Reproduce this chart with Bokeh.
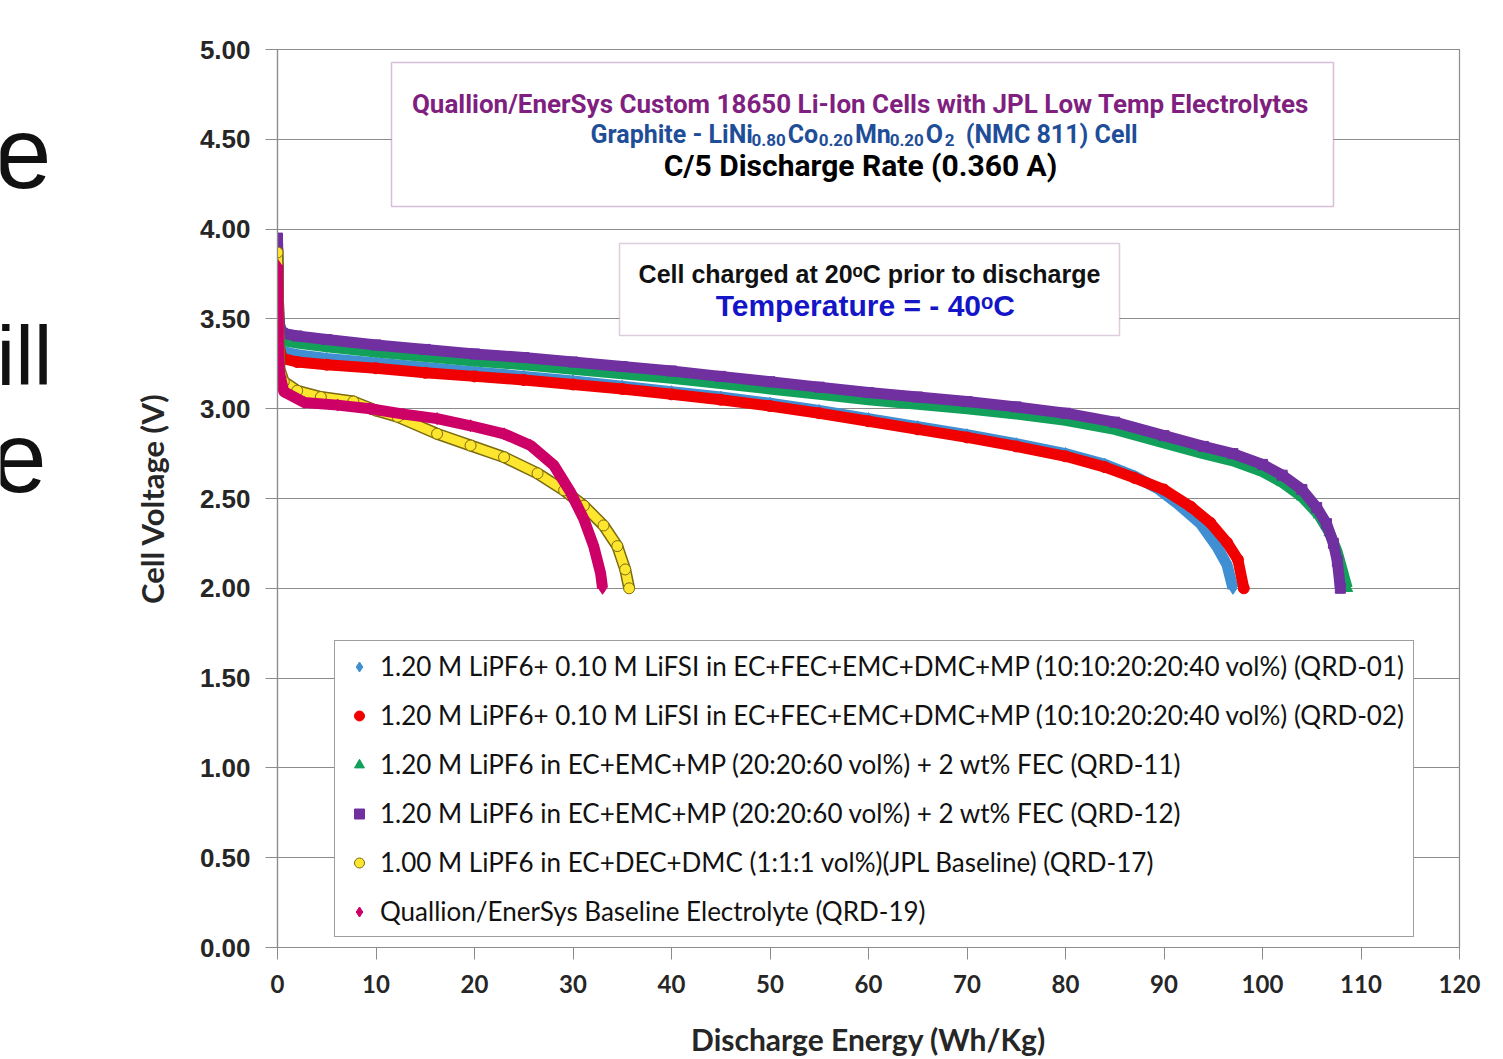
from bokeh.plotting import figure
from bokeh.layouts import row
from bokeh.models import (Label, BoxAnnotation, Legend, LegendItem, FixedTicker,
                          NumeralTickFormatter, Range1d)
from bokeh.core.properties import value
from bokeh.embed import file_html
from bokeh.resources import INLINE

# ---------------- data ----------------
energy_qrd01 = [0, 0.05, 0.1, 0.2, 0.5, 2, 5, 10, 15, 20, 25, 30, 35, 40, 45, 50, 55, 60, 65, 70,
                75, 80, 84, 87, 89.5, 91.4, 93.7, 95.4, 96.4, 97.0]
voltage_qrd01 = [3.92, 3.65, 3.50, 3.37, 3.32, 3.30, 3.28, 3.255, 3.23, 3.205, 3.18, 3.155, 3.125,
                 3.095, 3.065, 3.03, 2.99, 2.945, 2.90, 2.855, 2.805, 2.75, 2.69, 2.625, 2.55,
                 2.47, 2.36, 2.23, 2.13, 2.00]

energy_qrd02 = [0, 0.05, 0.1, 0.2, 0.5, 2, 5, 10, 15, 20, 25, 30, 35, 40, 45, 50, 55, 60, 65, 70,
                75, 80, 84, 87, 90, 92.7, 94.7, 96.4, 97.5, 98.1]
voltage_qrd02 = [3.88, 3.60, 3.45, 3.33, 3.28, 3.26, 3.245, 3.225, 3.20, 3.18, 3.16, 3.135, 3.11,
                 3.08, 3.05, 3.015, 2.975, 2.93, 2.885, 2.84, 2.79, 2.735, 2.675, 2.615, 2.55,
                 2.455, 2.365, 2.255, 2.16, 2.00]

energy_qrd11 = [0, 0.05, 0.1, 0.2, 0.5, 2, 5, 10, 15, 20, 25, 30, 35, 40, 45, 50, 55, 60, 65, 70,
                75, 80, 85, 90, 94, 97, 100, 102, 104, 105.7, 106.8, 107.6, 108.1, 108.6]
voltage_qrd11 = [3.93, 3.72, 3.55, 3.42, 3.38, 3.365, 3.345, 3.315, 3.29, 3.265, 3.245, 3.22, 3.195,
                 3.17, 3.14, 3.11, 3.08, 3.05, 3.025, 3.00, 2.97, 2.935, 2.885, 2.81, 2.75, 2.71,
                 2.65, 2.59, 2.51, 2.41, 2.31, 2.20, 2.10, 2.00]

energy_qrd12 = [0, 0.05, 0.1, 0.2, 0.5, 2, 5, 10, 15, 20, 25, 30, 35, 40, 45, 50, 55, 60, 65, 70,
                75, 80, 85, 90, 94, 97, 100, 102, 104, 105.5, 106.5, 107.2, 107.6, 107.9]
voltage_qrd12 = [3.95, 3.78, 3.60, 3.47, 3.42, 3.405, 3.385, 3.355, 3.33, 3.305, 3.285, 3.26, 3.235,
                 3.21, 3.18, 3.15, 3.12, 3.09, 3.065, 3.04, 3.01, 2.975, 2.925, 2.85, 2.79, 2.75,
                 2.69, 2.63, 2.55, 2.45, 2.36, 2.25, 2.15, 2.00]

energy_qrd17 = [0, 0.05, 0.1, 0.2, 0.64, 2.0, 4.4, 7.7, 10, 12.2, 16.2, 19.6, 23.0, 26.4, 29.1,
                31.1, 33.1, 34.5, 35.3, 35.7]
voltage_qrd17 = [3.87, 3.60, 3.40, 3.22, 3.15, 3.10, 3.065, 3.04, 2.99, 2.955, 2.86, 2.795, 2.73,
                 2.64, 2.545, 2.46, 2.35, 2.235, 2.105, 2.00]

energy_qrd19 = [0, 0.05, 0.1, 0.2, 0.64, 2.7, 6.1, 9.4, 12.8, 16.2, 19.6, 23.0, 25.7, 28.05, 29.75,
                31.1, 32.1, 32.8, 33.0]
voltage_qrd19 = [3.80, 3.55, 3.30, 3.20, 3.095, 3.035, 3.02, 3.00, 2.97, 2.945, 2.905, 2.86, 2.795,
                 2.685, 2.535, 2.385, 2.235, 2.085, 2.00]

series_labels = [
    "1.20 M LiPF6+ 0.10 M LiFSI in EC+FEC+EMC+DMC+MP (10:10:20:20:40 vol%) (QRD-01)",
    "1.20 M LiPF6+ 0.10 M LiFSI in EC+FEC+EMC+DMC+MP (10:10:20:20:40 vol%) (QRD-02)",
    "1.20 M LiPF6 in EC+EMC+MP (20:20:60 vol%) + 2 wt% FEC (QRD-11)",
    "1.20 M LiPF6 in EC+EMC+MP (20:20:60 vol%) + 2 wt% FEC (QRD-12)",
    "1.00 M LiPF6 in EC+DEC+DMC (1:1:1 vol%)(JPL Baseline) (QRD-17)",
    "Quallion/EnerSys Baseline Electrolyte (QRD-19)",
]

x_ticks = [0, 10, 20, 30, 40, 50, 60, 70, 80, 90, 100, 110, 120]
y_ticks = [0.0, 0.5, 1.0, 1.5, 2.0, 2.5, 3.0, 3.5, 4.0, 4.5, 5.0]

slide_words = ["ue", "ill", "e"]

LEFT, RIGHT, TOP, BOTTOM = 277, 1459, 49, 947
W, H = 1503, 1059

# ---------------- left strip with cropped slide text ----------------
STRIP = 60
side = figure(width=STRIP, height=H, x_range=Range1d(0, STRIP), y_range=Range1d(BOTTOM, TOP),
              output_backend="svg", toolbar_location=None,
              min_border_left=0, min_border_right=0,
              min_border_top=TOP, min_border_bottom=H - BOTTOM)
side.axis.visible = False
side.grid.visible = False
side.outline_line_color = None
side.background_fill_color = "white"
side.border_fill_color = "white"
side.text(x=[51], y=[152], text=[slide_words[0]], text_font=value("Liberation Sans"),
          text_font_size="102px", text_align="right", text_baseline="alphabetic", text_color="#111111")
side.text(x=[-4], y=[355], text=[slide_words[1]], text_font=value("Liberation Sans"),
          text_font_size="84px", text_align="left", text_baseline="alphabetic", text_color="#111111")
side.text(x=[46], y=[457], text=[slide_words[2]], text_font=value("Liberation Sans"),
          text_font_size="100px", text_align="right", text_baseline="alphabetic", text_color="#111111")

# ---------------- main figure ----------------
p = figure(width=W - STRIP, height=H, x_range=(0, 120), y_range=(0, 5),
           output_backend="svg", toolbar_location=None,
           min_border_left=LEFT - STRIP, min_border_right=W - RIGHT,
           min_border_top=TOP, min_border_bottom=H - BOTTOM)
p.background_fill_color = "white"
p.border_fill_color = "white"
p.outline_line_color = "#8c8c8c"
p.outline_line_width = 1.2

xs_per_px = 120 / (RIGHT - LEFT)
ys_per_px = 5 / (BOTTOM - TOP)


def dx(px):
    return (px - LEFT) * xs_per_px


def dy(py):
    return (BOTTOM - py) * ys_per_px


p.xgrid.visible = False
p.ygrid.grid_line_color = "#8c8c8c"
p.ygrid.grid_line_width = 1.2

p.xaxis.ticker = FixedTicker(ticks=x_ticks)
p.yaxis.ticker = FixedTicker(ticks=y_ticks)
p.yaxis.formatter = NumeralTickFormatter(format="0.00")
for ax in (p.xaxis, p.yaxis):
    ax.axis_line_color = "#8c8c8c"
    ax.axis_line_width = 1.2
    ax.major_tick_line_color = "#8c8c8c"
    ax.major_tick_in = 0
    ax.major_tick_out = 12
    ax.minor_tick_line_color = None
    ax.major_label_text_color = "#262626"
    ax.axis_label_text_color = "#262626"
    ax.axis_label_text_font_style = "bold"

p.yaxis.major_label_text_font = "Liberation Sans"
p.yaxis.major_label_text_font_style = "bold"
p.yaxis.major_label_text_font_size = "26px"
p.yaxis.major_label_standoff = 15
p.yaxis.axis_label = "Cell Voltage (V)"
p.yaxis.axis_label_text_font = "Lato"
p.yaxis.axis_label_text_font_size = "31px"
p.yaxis.axis_label_standoff = 26

p.xaxis.major_label_text_font = "Lato"
p.xaxis.major_label_text_font_style = "bold"
p.xaxis.major_label_text_font_size = "24px"
p.xaxis.major_label_standoff = 15
p.xaxis.axis_label = "Discharge Energy (Wh/Kg)"
p.xaxis.axis_label_text_font = "Lato"
p.xaxis.axis_label_text_font_size = "30px"
p.xaxis.axis_label_standoff = 25

# ---------------- series ----------------
styles = [
    dict(x=energy_qrd01, y=voltage_qrd01, marker="diamond", color="#3F8FD2", line="#3F8FD2", size=12),
    dict(x=energy_qrd02, y=voltage_qrd02, marker="circle", color="#F00000", line="#F00000", size=11),
    dict(x=energy_qrd11, y=voltage_qrd11, marker="triangle", color="#12A05A", line="#12A05A", size=11),
    dict(x=energy_qrd12, y=voltage_qrd12, marker="square", color="#7030A0", line="#7030A0", size=10),
    dict(x=energy_qrd17, y=voltage_qrd17, marker="circle", color="#FFE62E", line="#7A6A10", size=11),
    dict(x=energy_qrd19, y=voltage_qrd19, marker="diamond", color="#CC0066", line="#CC0066", size=12),
]

legend_items = []
for st, lab_text in zip(styles, series_labels):
    if st["line"] != st["color"]:
        p.line(st["x"], st["y"], line_color=st["line"], line_width=12, line_join="round")
        p.line(st["x"], st["y"], line_color=st["color"], line_width=9, line_join="round")
    else:
        p.line(st["x"], st["y"], line_color=st["color"], line_width=11, line_join="round")
    r = p.scatter(st["x"], st["y"], marker=st["marker"], size=st["size"],
                  fill_color=st["color"], line_color=st["line"], line_width=1)
    legend_items.append(LegendItem(label=lab_text, renderers=[r]))

legend = Legend(items=legend_items, location=(334 - LEFT, BOTTOM - 937),
                label_text_font="Lato", label_text_font_size="26px",
                label_text_color="#111111",
                border_line_color="#404040", border_line_width=1.5,
                background_fill_color="white", background_fill_alpha=1.0,
                padding=9, spacing=17, margin=0,
                glyph_width=30, glyph_height=25, label_height=31, label_standoff=6)
p.add_layout(legend)

# ---------------- annotation boxes ----------------
p.add_layout(BoxAnnotation(left=dx(391), right=dx(1333), top=dy(62), bottom=dy(206),
                           fill_color="white", fill_alpha=1.0,
                           line_color="#7A2E7A", line_width=1.5))
p.add_layout(BoxAnnotation(left=dx(619), right=dx(1119), top=dy(243), bottom=dy(335),
                           fill_color="white", fill_alpha=1.0,
                           line_color="#8E5A8E", line_width=1.5))

TFONT = "Roboto"


def lab(x, y, text, size, color, font=TFONT, style="bold", align="center", baseline="middle"):
    p.add_layout(Label(x=dx(x), y=dy(y), text=text, text_font=font,
                       text_font_size=f"{size}px", text_font_style=style,
                       text_color=color, text_align=align, text_baseline=baseline))


lab(860, 103, "Quallion/EnerSys Custom 18650 Li-Ion Cells with JPL Low Temp Electrolytes", 26, "#7F1F7F")

# second title line with subscripts, chained piece by piece
blue2 = "#1F4E99"
MAIN, SUB = 25, 17
pieces = [("Graphite - LiNi", False, 6.4), ("0.80", True, 2.07), ("Co", False, 1.2),
          ("0.20", True, 2.07), ("Mn", False, 1.35), ("0.20", True, 2.07), ("O", False, 0.72),
          ("2", True, 0.58), ("(NMC 811) Cell", False, 6.9)]
cursor = 590
for text, is_sub, em in pieces:
    if text.startswith("("):
        cursor += 0.4 * MAIN
    size = SUB if is_sub else MAIN
    lab(cursor, 139 if is_sub else 134, text, size, blue2, align="left", baseline="alphabetic")
    cursor += em * size + 1

lab(860, 165, "C/5 Discharge Rate (0.360 A)", 30, "#000000")

lab(869, 273, "Cell charged at 20\u1d52C prior to discharge", 25, "#111111", font="Liberation Sans")
lab(869, 305, "Temperature =  - 40\u1d52C", 30, "#1515C8", font="Liberation Sans")

layout = row(side, p, spacing=0)
open("out.html", "w").write(file_html(layout, INLINE))
